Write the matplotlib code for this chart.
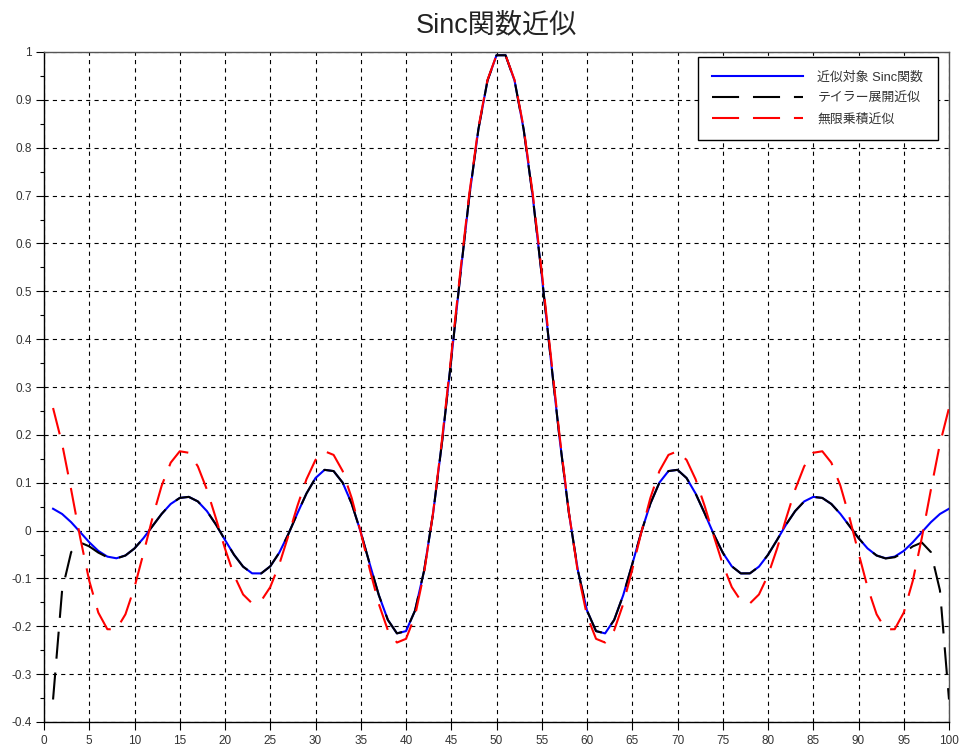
import numpy as np
import matplotlib
matplotlib.use("Agg")
import matplotlib.pyplot as plt

plt.rcParams['font.family'] = ['Liberation Sans', 'Noto Sans CJK JP', 'DejaVu Sans']
plt.rcParams['lines.scale_dashes'] = False

# sample index 1..100
idx = np.arange(1, 101)

sinc_vals = [
    0.0456, 0.0347, 0.0175, -0.0033, -0.0244, -0.0425, -0.0544, -0.0579, -0.0520, -0.0373,
    -0.0156, 0.0097, 0.0348, 0.0556, 0.0682, 0.0704, 0.0609, 0.0407, 0.0126, -0.0196,
    -0.0506, -0.0754, -0.0894, -0.0895, -0.0747, -0.0461, -0.0074, 0.0360, 0.0774, 0.1098,
    0.1269, 0.1243, 0.1002, 0.0562, -0.0032, -0.0703, -0.1351, -0.1868, -0.2148, -0.2101,
    -0.1671, -0.0839, 0.0368, 0.1878, 0.3580, 0.5333, 0.6986, 0.8384, 0.9399, 0.9932,
    0.9932, 0.9399, 0.8384, 0.6986, 0.5333, 0.3580, 0.1878, 0.0368, -0.0839, -0.1671,
    -0.2101, -0.2148, -0.1868, -0.1351, -0.0703, -0.0032, 0.0562, 0.1002, 0.1243, 0.1269,
    0.1098, 0.0774, 0.0360, -0.0074, -0.0461, -0.0747, -0.0895, -0.0894, -0.0754, -0.0506,
    -0.0196, 0.0126, 0.0407, 0.0609, 0.0704, 0.0682, 0.0556, 0.0348, 0.0097, -0.0156,
    -0.0373, -0.0520, -0.0579, -0.0544, -0.0425, -0.0244, -0.0033, 0.0175, 0.0347, 0.0456,
]

taylor_vals = [
    -0.353, -0.125, -0.045, -0.025, -0.033, -0.046, -0.0557, -0.0583, -0.0521, -0.0373,
    -0.0156, 0.0097, 0.0348, 0.0556, 0.0682, 0.0704, 0.0609, 0.0407, 0.0126, -0.0196,
    -0.0506, -0.0754, -0.0894, -0.0895, -0.0747, -0.0461, -0.0074, 0.0360, 0.0774, 0.1098,
    0.1269, 0.1243, 0.1002, 0.0562, -0.0032, -0.0703, -0.1351, -0.1868, -0.2148, -0.2101,
    -0.1671, -0.0839, 0.0368, 0.1878, 0.3580, 0.5333, 0.6986, 0.8384, 0.9399, 0.9932,
    0.9932, 0.9399, 0.8384, 0.6986, 0.5333, 0.3580, 0.1878, 0.0368, -0.0839, -0.1671,
    -0.2101, -0.2148, -0.1868, -0.1351, -0.0703, -0.0032, 0.0562, 0.1002, 0.1243, 0.1269,
    0.1098, 0.0774, 0.0360, -0.0074, -0.0461, -0.0747, -0.0895, -0.0894, -0.0754, -0.0506,
    -0.0196, 0.0126, 0.0407, 0.0609, 0.0704, 0.0682, 0.0556, 0.0348, 0.0097, -0.0156,
    -0.0373, -0.0521, -0.0583, -0.0557, -0.046, -0.033, -0.025, -0.045, -0.125, -0.353,
]

product_vals = [
    0.2561, 0.1815, 0.0856, -0.0150, -0.1049, -0.1714, -0.2061, -0.2065, -0.1749, -0.1183,
    -0.0468, 0.0276, 0.0937, 0.1419, 0.1657, 0.1626, 0.1342, 0.0857, 0.0253, -0.0377,
    -0.0933, -0.1335, -0.1522, -0.1467, -0.1181, -0.0704, -0.0109, 0.0515, 0.1072, 0.1476,
    0.1658, 0.1581, 0.1244, 0.0680, -0.0038, -0.0815, -0.1536, -0.2085, -0.2340, -0.2262,
    -0.1781, -0.0883, 0.0382, 0.1934, 0.3658, 0.5410, 0.7046, 0.8421, 0.9414, 0.9934,
    0.9934, 0.9414, 0.8421, 0.7046, 0.5410, 0.3658, 0.1934, 0.0382, -0.0883, -0.1781,
    -0.2262, -0.2340, -0.2085, -0.1536, -0.0815, -0.0038, 0.0680, 0.1244, 0.1581, 0.1658,
    0.1476, 0.1072, 0.0515, -0.0109, -0.0704, -0.1181, -0.1467, -0.1522, -0.1335, -0.0933,
    -0.0377, 0.0253, 0.0857, 0.1342, 0.1626, 0.1657, 0.1419, 0.0937, 0.0276, -0.0468,
    -0.1183, -0.1749, -0.2065, -0.2061, -0.1714, -0.1049, -0.0150, 0.0856, 0.1815, 0.2561,
]

labels = ["近似対象 Sinc関数", "テイラー展開近似", "無限乗積近似"]
x_ticks = list(range(0, 101, 5))
y_ticks = [-0.4, -0.3, -0.2, -0.1, 0, 0.1, 0.2, 0.3, 0.4, 0.5, 0.6, 0.7, 0.8, 0.9, 1]
y_ticklabels = ["-0.4", "-0.3", "-0.2", "-0.1", "0", "0.1", "0.2", "0.3", "0.4",
                "0.5", "0.6", "0.7", "0.8", "0.9", "1"]

fig = plt.figure(figsize=(9.61, 7.49), dpi=100)
ax = fig.add_axes([44 / 961, 27 / 749, 905 / 961, 670 / 749])

dash = (0, (19.5, 10.0))
ax.plot(idx, sinc_vals, color="#0000ff", lw=1.5, label=labels[0], zorder=3)
ax.plot(idx, taylor_vals, color="black", lw=1.5, linestyle=dash, label=labels[1], zorder=4)
ax.plot(idx, product_vals, color="#ff0000", lw=1.5, linestyle=dash, label=labels[2], zorder=5)

ax.set_xlim(0, 100)
ax.set_ylim(-0.4, 1.0)
ax.set_xticks(x_ticks)
ax.set_xticklabels([str(t) for t in x_ticks])
ax.set_yticks(y_ticks)
ax.set_yticklabels(y_ticklabels)
ax.set_yticks(np.arange(-0.35, 1.0, 0.1), minor=True)

ax.grid(True, which="major", color="black", linestyle=(0, (3, 3)), lw=0.8)
ax.tick_params(axis="both", which="major", direction="out", length=5.5, width=0.8,
               labelsize=8.5, colors="black", labelcolor="#333333")
ax.tick_params(axis="y", which="minor", direction="out", length=3, width=0.8)
for s in ax.spines.values():
    s.set_color("#555555")
    s.set_linewidth(1.0)
ax.spines["left"].set_color("black")
ax.spines["bottom"].set_color("black")

ax.set_title("Sinc関数近似", fontsize=19.5, pad=14, color="#222222")

leg = ax.legend(loc="upper left", bbox_to_anchor=(698 / 961, 1 - 57 / 749),
                bbox_transform=fig.transFigure, fontsize=9.3, frameon=True,
                fancybox=False, edgecolor="black", framealpha=1,
                handlelength=7.0, handletextpad=1.15, labelspacing=0.7,
                borderpad=1.1, borderaxespad=0)
leg.get_frame().set_linewidth(1.0)
for t in leg.get_texts():
    t.set_color("#333333")

fig.savefig("out.png", dpi=100)
